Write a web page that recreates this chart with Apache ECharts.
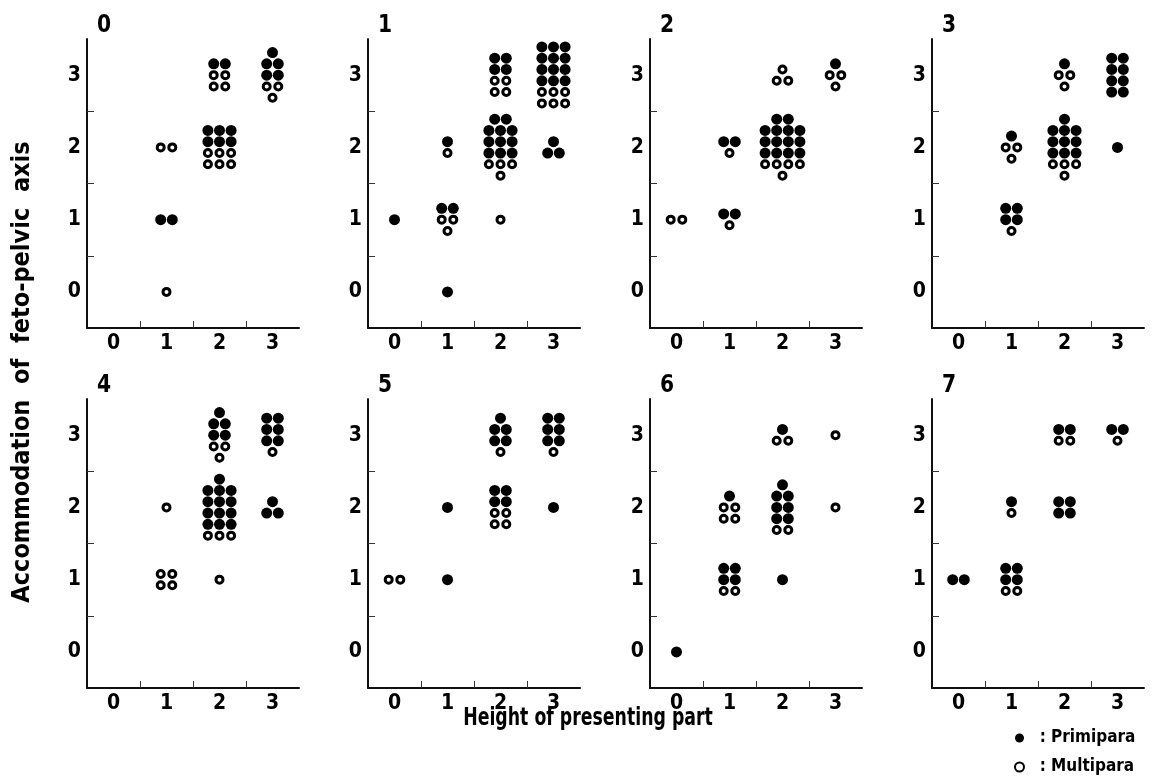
<!DOCTYPE html>
<html>
<head>
<meta charset="utf-8">
<title>Height of presenting part vs accommodation of feto-pelvic axis</title>
<script src="https://cdn.jsdelivr.net/npm/echarts@6/dist/echarts.min.js"></script>
<style>
  html, body { margin: 0; padding: 0; background: #fff; }
  #chart { width: 1159px; height: 777px; }
</style>
</head>
<body>
<div id="chart"></div>
<script>
// Axis categories
const heightCategories = ['0', '1', '2', '3'];
const accommodationCategories = ['0', '1', '2', '3'];
const panelTitles = ['0', '1', '2', '3', '4', '5', '6', '7'];

// Each cell: [height, accommodation, rows of cases from top to bottom]
// P = primipara, M = multipara
const panel0 = [
  [1, 2, ['MM']],
  [1, 1, ['PP']],
  [1, 0, ['M']],
  [2, 3, ['PP', 'MM', 'MM']],
  [2, 2, ['PPP', 'PPP', 'MMM', 'MMM']],
  [3, 3, ['P', 'PP', 'PP', 'MM', 'M']]
];
const panel1 = [
  [0, 1, ['P']],
  [1, 2, ['P', 'M']],
  [1, 1, ['PP', 'MM', 'M']],
  [1, 0, ['P']],
  [2, 3, ['PP', 'PP', 'MM', 'MM']],
  [2, 2, ['PP', 'PPP', 'PPP', 'PPP', 'MMM', 'M']],
  [2, 1, ['M']],
  [3, 3, ['PPP', 'PPP', 'PPP', 'PPP', 'MMM', 'MMM']],
  [3, 2, ['P', 'PP']]
];
const panel2 = [
  [0, 1, ['MM']],
  [1, 2, ['PP', 'M']],
  [1, 1, ['PP', 'M']],
  [2, 3, ['M', 'MM']],
  [2, 2, ['PP', 'PPPP', 'PPPP', 'PPPP', 'MMMM', 'M']],
  [3, 3, ['P', 'MM', 'M']]
];
const panel3 = [
  [1, 2, ['P', 'MM', 'M']],
  [1, 1, ['PP', 'PP', 'M']],
  [2, 3, ['P', 'MM', 'M']],
  [2, 2, ['P', 'PPP', 'PPP', 'PPP', 'MMM', 'M']],
  [3, 3, ['PP', 'PP', 'PP', 'PP']],
  [3, 2, ['P']]
];
const panel4 = [
  [1, 2, ['M']],
  [1, 1, ['MM', 'MM']],
  [2, 3, ['P', 'PP', 'PP', 'MM', 'M']],
  [2, 2, ['P', 'PPP', 'PPP', 'PPP', 'PPP', 'MMM']],
  [2, 1, ['M']],
  [3, 3, ['PP', 'PP', 'PP', 'M']],
  [3, 2, ['P', 'PP']]
];
const panel5 = [
  [0, 1, ['MM']],
  [1, 2, ['P']],
  [1, 1, ['P']],
  [2, 3, ['P', 'PP', 'PP', 'M']],
  [2, 2, ['PP', 'PP', 'MM', 'MM']],
  [3, 3, ['PP', 'PP', 'PP', 'M']],
  [3, 2, ['P']]
];
const panel6 = [
  [0, 0, ['P']],
  [1, 2, ['P', 'MM', 'MM']],
  [1, 1, ['PP', 'PP', 'MM']],
  [2, 3, ['P', 'MM']],
  [2, 2, ['P', 'PP', 'PP', 'PP', 'MM']],
  [2, 1, ['P']],
  [3, 3, ['M']],
  [3, 2, ['M']]
];
const panel7 = [
  [0, 1, ['PP']],
  [1, 2, ['P', 'M']],
  [1, 1, ['PP', 'PP', 'MM']],
  [2, 3, ['PP', 'MM']],
  [2, 2, ['PP', 'PP']],
  [3, 3, ['PP', 'M']]
];

const panels = [panel0, panel1, panel2, panel3, panel4, panel5, panel6, panel7];

// Layout
const FONT = "'Liberation Sans Narrow', 'DejaVu Sans Condensed', 'Liberation Sans', sans-serif";
const gridLefts = [87, 368, 650, 932];
const gridTops = [39, 399];
const gridW = 212, gridH = 289;
const colStep = 11.6, rowStep = 11.3;

const grids = [], xAxes = [], yAxes = [], series = [], graphics = [];

function axisDef(gridIndex, cats, isX) {
  return {
    type: 'value', gridIndex: gridIndex, min: -0.5, max: 3.5,
    axisLine: { show: true, onZero: false, lineStyle: { color: '#111', width: 2 } },
    axisTick: { show: true, inside: true, length: 7, customValues: [0.5, 1.5, 2.5],
                lineStyle: { color: '#333', width: 1 } },
    axisLabel: { show: true, customValues: [0, 1, 2, 3],
                 formatter: function (v) { return cats[Math.round(v)]; },
                 margin: isX ? 5 : 6, fontSize: 21, fontWeight: 'bold',
                 fontFamily: FONT, color: '#000' },
    splitLine: { show: false }
  };
}

panels.forEach(function (cells, i) {
  const left = gridLefts[i % 4], top = gridTops[Math.floor(i / 4)];
  grids.push({ left: left, top: top, width: gridW, height: gridH });
  xAxes.push(axisDef(i, heightCategories, true));
  yAxes.push(axisDef(i, accommodationCategories, false));

  const prim = [], multi = [];
  cells.forEach(function (cell) {
    const x = cell[0], y = cell[1], rows = cell[2];
    rows.forEach(function (row, r) {
      const dy = (r - (rows.length - 1) / 2) * rowStep;
      row.split('').forEach(function (kind, c) {
        const dx = (c - (row.length - 1) / 2) * colStep;
        const item = { value: [x, y], symbolOffset: [dx, dy] };
        (kind === 'P' ? prim : multi).push(item);
      });
    });
  });

  series.push({
    name: 'Primipara', type: 'scatter', xAxisIndex: i, yAxisIndex: i,
    symbol: 'circle', symbolSize: 11,
    itemStyle: { color: '#000', opacity: 1 },
    data: prim
  });
  series.push({
    name: 'Multipara', type: 'scatter', xAxisIndex: i, yAxisIndex: i,
    symbol: 'circle', symbolSize: 7,
    itemStyle: { color: '#fff', borderColor: '#000', borderWidth: 3, opacity: 1 },
    data: multi
  });

  graphics.push({
    type: 'text', x: left + 10, y: top - 26, scaleX: 0.9,
    style: { text: panelTitles[i], fontSize: 25, fontWeight: 'bold', fontFamily: FONT,
             fill: '#000', textAlign: 'left', textVerticalAlign: 'top' }
  });
});

graphics.push({
  type: 'text', x: 22, y: 372, rotation: Math.PI / 2,
  style: { text: 'Accommodation  of  feto-pelvic  axis', fontSize: 25, fontWeight: 'bold',
           fontFamily: FONT, fill: '#000', textAlign: 'center', textVerticalAlign: 'middle' }
});
graphics.push({
  type: 'text', x: 588, y: 718, scaleX: 0.77,
  style: { text: 'Height of presenting part', fontSize: 25, fontWeight: 'bold',
           fontFamily: FONT, fill: '#000', textAlign: 'center', textVerticalAlign: 'middle' }
});

const chart = echarts.init(document.getElementById('chart'), null, { renderer: 'canvas' });
chart.setOption({
  animation: false,
  backgroundColor: '#fff',
  grid: grids,
  xAxis: xAxes,
  yAxis: yAxes,
  series: series,
  legend: {
    orient: 'vertical', left: 1009, top: 723, height: 60,
    itemWidth: 9, itemHeight: 9, itemGap: 9,
    selectedMode: false,
    data: [
      { name: 'Primipara', icon: 'circle' },
      { name: 'Multipara', icon: 'circle', itemStyle: { color: '#fff', borderColor: '#000', borderWidth: 2 } }
    ],
    formatter: function (name) { return '  : ' + name; },
    textStyle: { fontFamily: FONT, fontWeight: 'bold', fontSize: 17, lineHeight: 20, color: '#000' }
  },
  graphic: graphics
});
</script>
</body>
</html>
